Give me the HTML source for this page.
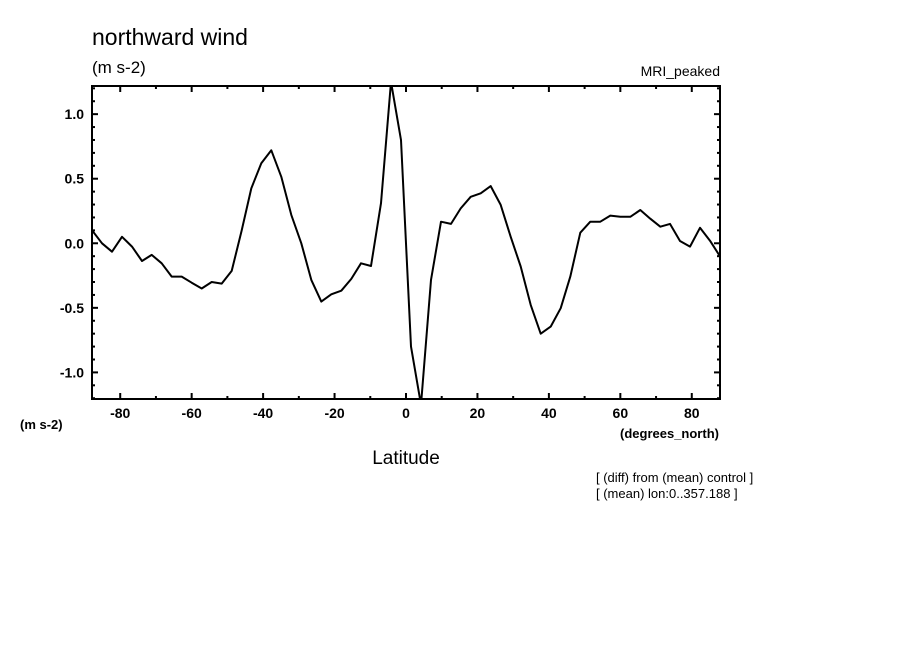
<!DOCTYPE html>
<html><head><meta charset="utf-8"><style>
body{margin:0;background:#fff;}
svg{display:block;font-family:"Liberation Sans",sans-serif;}
</style></head><body>
<svg id="chart" width="904" height="654" viewBox="0 0 904 654">
<rect x="0" y="0" width="904" height="654" fill="#fff"/>
<text x="92" y="45" font-size="23">northward wind</text>
<text x="92" y="73" font-size="17">(m s-2)</text>
<text x="720" y="76" font-size="14" text-anchor="end">MRI_peaked</text>
<defs><clipPath id="clip"><rect x="92" y="86" width="628" height="313"/></clipPath></defs>
<g id="ticks"></g>
<path id="series" clip-path="url(#clip)" fill="none" stroke="#000" stroke-width="2" stroke-linejoin="round"/>
<rect x="92" y="86" width="628" height="313" fill="none" stroke="#000" stroke-width="2"/>
<text x="20" y="429" font-size="13" font-weight="bold">(m s-2)</text>
<text x="620" y="438" font-size="13" font-weight="bold">(degrees_north)</text>
<text x="406" y="464" font-size="19" text-anchor="middle">Latitude</text>
<text x="596" y="482" font-size="13">[ (diff) from (mean) control ]</text>
<text x="596" y="498" font-size="13">[ (mean) lon:0..357.188 ]</text>
</svg>
<script>
const lats = [-87.86,-85.1,-82.3,-79.5,-76.7,-73.9,-71.2,-68.4,-65.6,-62.8,-60.0,-57.2,-54.4,-51.6,-48.8,-46.0,-43.3,-40.5,-37.7,-34.9,-32.1,-29.3,-26.5,-23.7,-20.9,-18.1,-15.3,-12.6,-9.8,-7.0,-4.2,-1.4,1.4,4.2,7.0,9.8,12.6,15.3,18.1,20.9,23.7,26.5,29.3,32.1,34.9,37.7,40.5,43.3,46.0,48.8,51.6,54.4,57.2,60.0,62.8,65.6,68.4,71.2,73.9,76.7,79.5,82.3,85.1,87.86];
const values = [0.10,0.0,-0.065,0.05,-0.026,-0.137,-0.09,-0.155,-0.258,-0.258,-0.305,-0.35,-0.30,-0.312,-0.214,0.10,0.425,0.62,0.72,0.515,0.22,0.0,-0.284,-0.452,-0.395,-0.367,-0.276,-0.155,-0.176,0.31,1.25,0.80,-0.80,-1.25,-0.284,0.167,0.15,0.27,0.36,0.387,0.443,0.297,0.05,-0.18,-0.477,-0.70,-0.645,-0.503,-0.258,0.082,0.167,0.167,0.214,0.205,0.205,0.258,0.19,0.128,0.15,0.018,-0.026,0.12,0.02,-0.10];
const xTickLabels = ["-80","-60","-40","-20","0","20","40","60","80"];
const yTickLabels = ["1.0","0.5","0.0","-0.5","-1.0"];

const X0=92,X1=720,Y0=86,Y1=399;
const xMin=-87.9,xMax=87.9,yMin=-1.206,yMax=1.218;
const xs=v=>X0+(v-xMin)/(xMax-xMin)*(X1-X0);
const ys=v=>Y1-(v-yMin)/(yMax-yMin)*(Y1-Y0);
const NS="http://www.w3.org/2000/svg";
const svg=document.getElementById('chart');
const g=document.getElementById('ticks');
function line(x1,y1,x2,y2){const l=document.createElementNS(NS,'line');l.setAttribute('x1',x1);l.setAttribute('y1',y1);l.setAttribute('x2',x2);l.setAttribute('y2',y2);l.setAttribute('stroke','#000');l.setAttribute('stroke-width','2');


g.appendChild(l);}
function text(x,y,s,anchor){const t=document.createElementNS(NS,'text');t.setAttribute('x',x);t.setAttribute('y',y);t.setAttribute('font-size','14');t.setAttribute('font-weight','bold');t.setAttribute('text-anchor',anchor);t.textContent=s;


svg.appendChild(t);}
for(let d=-80;d<=80;d+=10){const x=xs(d);const maj=d%20===0;const L=maj?6:3;line(x,Y0,x,Y0+L);line(x,Y1,x,Y1-L);}
xTickLabels.forEach(s=>{text(xs(parseFloat(s)),418,s,'middle');});
for(let k=-12;k<=12;k++){const v=k/10;const y=ys(v);if(y<Y0||y>Y1)continue;const maj=k%5===0;const L=maj?6:3;line(X0,y,X0+L,y);line(X1,y,X1-L,y);}
yTickLabels.forEach(s=>{text(84,ys(parseFloat(s))+5,s,'end');});
document.getElementById('series').setAttribute('d',lats.map((la,i)=>(i?'L':'M')+xs(la).toFixed(1)+' '+ys(values[i]).toFixed(1)).join(' '));
</script>
</body></html>
